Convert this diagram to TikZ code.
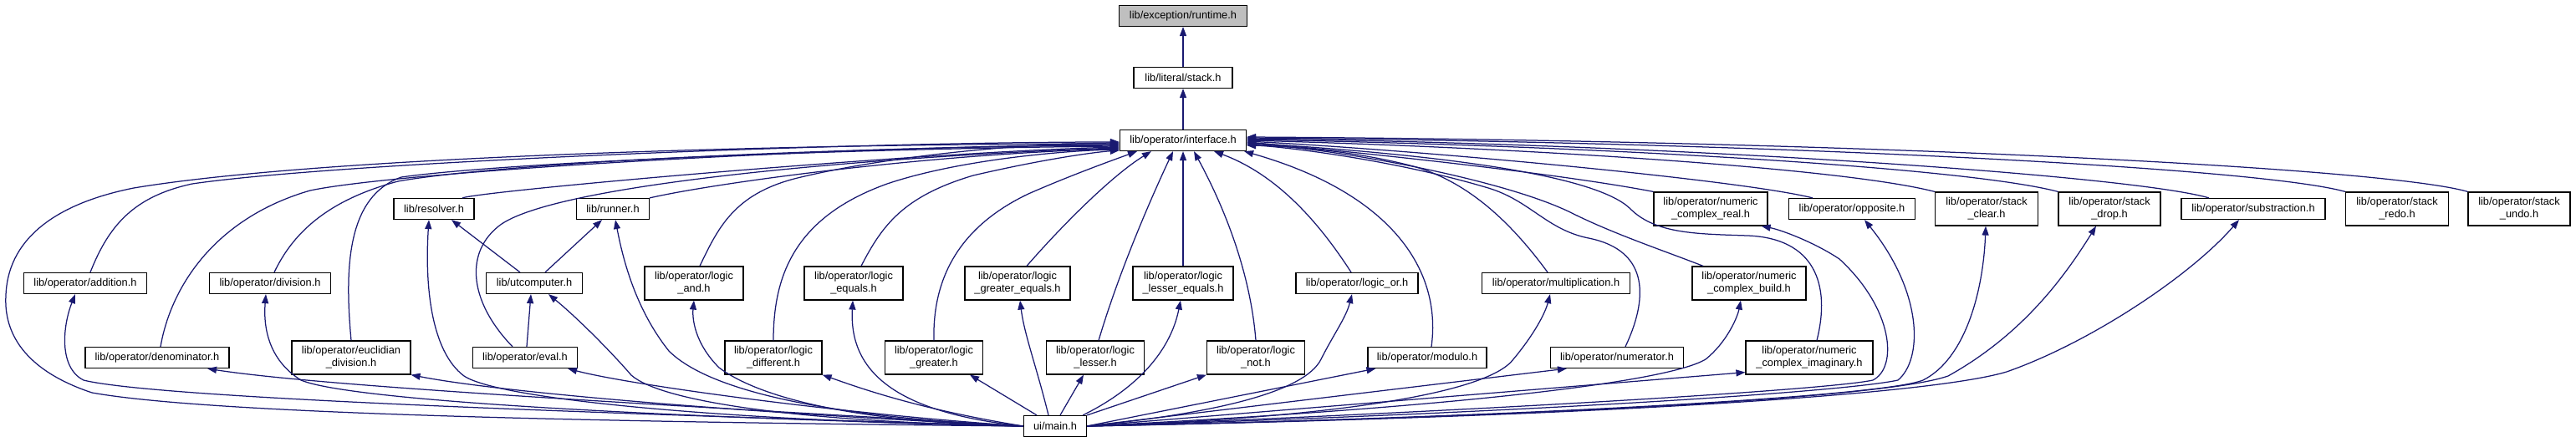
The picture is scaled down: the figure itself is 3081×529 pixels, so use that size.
\documentclass[tikz,border=0pt]{standalone}
\usepackage{fontspec}
\setmainfont{Liberation Sans}
\usetikzlibrary{arrows.meta,calc}
\definecolor{edgeblue}{HTML}{191970}
\definecolor{rootgray}{HTML}{BFBFBF}
\begin{document}
\begin{tikzpicture}[x=1pt,y=-1pt,
  box/.style={draw=black, line width=1.2pt, fill=white, inner sep=0pt, align=center, font=\fontsize{12.8}{15}\selectfont},
  sl/.style={minimum height=25pt},
  dl/.style={minimum height=40pt},
  dep/.style={draw=edgeblue, line width=1.25pt, -{Triangle[length=11pt,width=8pt]}},
]
\useasboundingbox (0,0) rectangle (3081,529);

% nodes
\node[box,sl,minimum width=153pt,fill=rootgray] (runtime) at (1415,19) {lib/exception/runtime.h};
\node[box,sl,minimum width=118pt] (stack) at (1415,93) {lib/literal/stack.h};
\node[box,sl,minimum width=151pt] (iface) at (1415,168) {lib/operator/interface.h};

\node[box,sl,minimum width=96pt] (resolver) at (519,250) {lib/resolver.h};
\node[box,sl,minimum width=87pt] (runner) at (733,250) {lib/runner.h};
\node[box,dl,minimum width=136pt] (ncreal) at (2046,250) {lib/operator/numeric\\\_complex\_real.h};
\node[box,sl,minimum width=151pt] (opposite) at (2215,250) {lib/operator/opposite.h};
\node[box,dl,minimum width=123pt] (stackclear) at (2376,250) {lib/operator/stack\\\_clear.h};
\node[box,dl,minimum width=122pt] (stackdrop) at (2523,250) {lib/operator/stack\\\_drop.h};
\node[box,sl,minimum width=172pt] (substraction) at (2695,250) {lib/operator/substraction.h};
\node[box,dl,minimum width=123pt] (stackredo) at (2867,250) {lib/operator/stack\\\_redo.h};
\node[box,dl,minimum width=122pt] (stackundo) at (3013,250) {lib/operator/stack\\\_undo.h};

\node[box,sl,minimum width=147pt] (addition) at (102,339) {lib/operator/addition.h};
\node[box,sl,minimum width=145pt] (division) at (323,339) {lib/operator/division.h};
\node[box,sl,minimum width=115pt] (utcomputer) at (639,339) {lib/utcomputer.h};
\node[box,dl,minimum width=118pt] (logicand) at (830,339) {lib/operator/logic\\\_and.h};
\node[box,dl,minimum width=118pt] (logicequals) at (1021,339) {lib/operator/logic\\\_equals.h};
\node[box,dl,minimum width=126pt] (logicgreq) at (1217,339) {lib/operator/logic\\\_greater\_equals.h};
\node[box,dl,minimum width=120pt] (logicleeq) at (1415,339) {lib/operator/logic\\\_lesser\_equals.h};
\node[box,sl,minimum width=146pt] (logicor) at (1623,339) {lib/operator/logic\_or.h};
\node[box,sl,minimum width=177pt] (multiplication) at (1861,339) {lib/operator/multiplication.h};
\node[box,dl,minimum width=136pt] (ncbuild) at (2092,339) {lib/operator/numeric\\\_complex\_build.h};

\node[box,sl,minimum width=172pt] (denominator) at (188,428) {lib/operator/denominator.h};
\node[box,dl,minimum width=142pt] (euclid) at (420,428) {lib/operator/euclidian\\\_division.h};
\node[box,sl,minimum width=125pt] (eval) at (628,428) {lib/operator/eval.h};
\node[box,dl,minimum width=116pt] (logicdiff) at (925,428) {lib/operator/logic\\\_different.h};
\node[box,dl,minimum width=117pt] (logicgreater) at (1117,428) {lib/operator/logic\\\_greater.h};
\node[box,dl,minimum width=117pt] (logiclesser) at (1310,428) {lib/operator/logic\\\_lesser.h};
\node[box,dl,minimum width=117pt] (logicnot) at (1502,428) {lib/operator/logic\\\_not.h};
\node[box,sl,minimum width=142pt] (modulo) at (1707,428) {lib/operator/modulo.h};
\node[box,sl,minimum width=159pt] (numerator) at (1934,428) {lib/operator/numerator.h};
\node[box,dl,minimum width=152pt] (ncimag) at (2164,428) {lib/operator/numeric\\\_complex\_imaginary.h};

\node[box,sl,minimum width=75pt] (main) at (1262,510) {ui/main.h};

% chain
\draw[dep] (stack) -- (runtime);
\draw[dep] (iface) -- (stack);

% into interface, left side
\draw[dep] (main.west) .. controls (700,505) and (250,495) .. (110,470) .. controls (20,440) and (5,390) .. (7,354) .. controls (9,290) and (60,245) .. (160,225) .. controls (400,185) and (1000,172) .. ($(iface.west)+(0,4)$);
\draw[dep] ($(addition.north)+(6,0)$) .. controls (130,270) and (160,235) .. (230,220) .. controls (400,195) and (1000,170) .. ($(iface.west)+(0,2)$);
\draw[dep] ($(denominator.north)+(4,0)$) .. controls (205,340) and (260,260) .. (371,228) .. controls (480,205) and (1000,175) .. ($(iface.west)+(0,5)$);
\draw[dep] ($(division.north)+(5,0)$) .. controls (350,280) and (390,240) .. (476,217) .. controls (600,195) and (1000,176) .. ($(iface.west)+(0,6)$);
\draw[dep] (euclid.north) .. controls (412,320) and (415,235) .. (480,212) .. controls (600,195) and (1000,178) .. ($(iface.west)+(0,7)$);
\draw[dep] ($(resolver.north)+(34,0)$) .. controls (580,228) and (1100,182) .. ($(iface.west)+(0,8)$);
\draw[dep] ($(eval.north)+(-15,0)$) .. controls (560,360) and (555,300) .. (600,268) .. controls (680,215) and (1100,185) .. ($(iface.west)+(0,9)$);
\draw[dep] (runner.north east) .. controls (850,220) and (1100,185) .. ($(iface.west)+(0,10)$);
\draw[dep] ($(logicand.north)+(7,0)$) .. controls (860,270) and (880,230) .. (958,212) .. controls (1050,190) and (1200,172) .. ($(iface.west)+(0,3)$);
\draw[dep] (logicdiff.north) .. controls (925,330) and (950,260) .. (1061,220) .. controls (1150,190) and (1280,180) .. ($(iface.west)+(0,11)$);
\draw[dep] ($(logicequals.north)+(9,0)$) .. controls (1055,270) and (1080,235) .. (1164,210) .. controls (1250,190) and (1310,182) .. ($(iface.west)+(0,12)$);

% into interface, bottom
\draw[dep] (logicgreater.north) .. controls (1115,330) and (1150,270) .. (1230,232) .. controls (1280,210) and (1330,192) .. ($(iface.south)+(-55,0)$);
\draw[dep] ($(logicgreq.north)+(11,0)$) .. controls (1270,270) and (1330,210) .. ($(iface.south)+(-38,0)$);
\draw[dep] ($(logiclesser.north)+(4,0)$) .. controls (1340,320) and (1380,230) .. ($(iface.south)+(-12,0)$);
\draw[dep] (logicleeq) -- (iface);
\draw[dep] (logicnot.north) .. controls (1495,320) and (1460,240) .. ($(iface.south)+(13,0)$);
\draw[dep] ($(logicor.north)+(-7,0)$) .. controls (1580,270) and (1530,210) .. ($(iface.south)+(37,0)$);
\draw[dep] ($(modulo.north)+(5,0)$) .. controls (1725,320) and (1660,230) .. ($(iface.south east)+(-3,0)$);

% into interface, right side
\draw[dep] ($(multiplication.north)+(-10,0)$) .. controls (1810,270) and (1760,220) .. (1694,200) .. controls (1620,180) and (1540,175) .. ($(iface.east)+(0,6)$);
\draw[dep] ($(numerator.north)+(10,0)$) .. controls (1970,360) and (1975,300) .. (1900,285) .. controls (1850,275) and (1830,240) .. (1780,225) .. controls (1680,195) and (1560,178) .. ($(iface.east)+(0,5)$);
\draw[dep] ($(ncbuild.north)+(-55,0)$) .. controls (1990,300) and (1930,280) .. (1880,255) .. controls (1800,215) and (1600,178) .. ($(iface.east)+(0,4)$);
\draw[dep] ($(ncimag.north)+(9,0)$) .. controls (2190,340) and (2170,285) .. (2090,282) .. controls (2030,280) and (1980,280) .. (1950,250) .. controls (1920,220) and (1800,190) .. ($(iface.east)+(0,3)$);
\draw[dep] (ncreal.north west) .. controls (1850,205) and (1600,180) .. ($(iface.east)+(0,2)$);
\draw[dep] ($(opposite.north)+(-47,0)$) .. controls (2080,215) and (1700,180) .. ($(iface.east)+(0,1)$);
\draw[dep] (stackclear.north west) .. controls (2200,200) and (1800,176) .. (iface.east);
\draw[dep] (stackdrop.north west) .. controls (2350,200) and (1900,174) .. ($(iface.east)+(0,-1)$);
\draw[dep] ($(substraction.north)+(-53,0)$) .. controls (2550,210) and (2000,172) .. ($(iface.east)+(0,-2)$);
\draw[dep] (stackredo.north west) .. controls (2700,200) and (2100,170) .. ($(iface.east)+(0,-3)$);
\draw[dep] (stackundo.north west) .. controls (2850,200) and (2200,168) .. ($(iface.east)+(0,-4)$);

% from main
\draw[dep] (main.west) .. controls (900,500) and (200,480) .. (100,455) .. controls (70,440) and (75,390) .. ($(addition.south)+(-12,0)$);
\draw[dep] (main.west) .. controls (900,490) and (400,465) .. ($(denominator.south)+(60,0)$);
\draw[dep] (main.west) .. controls (800,500) and (420,480) .. (360,455) .. controls (320,430) and (315,390) .. ($(division.south)+(-5,0)$);
\draw[dep] (main.west) .. controls (900,495) and (600,470) .. (euclid.south east);
\draw[dep] (main.west) .. controls (900,505) and (600,480) .. (555,450) .. controls (515,420) and (508,340) .. ($(resolver.south)+(-6,0)$);
\draw[dep] (main.west) .. controls (1000,495) and (750,460) .. ($(eval.south east)+(-12,0)$);
\draw[dep] (main.west) .. controls (950,505) and (790,480) .. (755,449) .. controls (730,420) and (690,380) .. ($(utcomputer.south)+(17,0)$);
\draw[dep] (main.west) .. controls (1000,500) and (850,470) .. (800,420) .. controls (760,370) and (745,310) .. ($(runner.south)+(3,0)$);
\draw[dep] (main.west) .. controls (1000,505) and (900,470) .. (860,440) .. controls (830,410) and (828,380) .. (logicand.south);
\draw[dep] (main.west) .. controls (1100,490) and (1030,465) .. (logicdiff.south east);
\draw[dep] (main.west) .. controls (1080,495) and (1015,450) .. ($(logicequals.south)+(-1,0)$);
\draw[dep] ($(main.north)+(-22,0)$) -- ($(logicgreater.south)+(43,0)$);
\draw[dep] ($(main.north)+(-8,0)$) .. controls (1240,440) and (1225,400) .. ($(logicgreq.south)+(3,0)$);
\draw[dep] ($(main.north)+(6,0)$) -- ($(logiclesser.south)+(-14,0)$);
\draw[dep] ($(main.north east)+(-5,0)$) .. controls (1360,465) and (1400,420) .. ($(logicleeq.south)+(-3,0)$);
\draw[dep] (main.north east) -- (logicnot.south west);
\draw[dep] (main.east) .. controls (1450,495) and (1560,470) .. (1580,430) .. controls (1595,400) and (1610,380) .. ($(logicor.south)+(-6,0)$);
\draw[dep] (main.east) -- ($(modulo.south west)+(10,0)$);
\draw[dep] (main.east) .. controls (1600,500) and (1780,470) .. (1810,430) .. controls (1835,400) and (1848,375) .. ($(multiplication.south)+(-7,0)$);
\draw[dep] (main.east) -- ($(numerator.south west)+(20,0)$);
\draw[dep] (main.east) .. controls (1700,490) and (1990,460) .. (2040,430) .. controls (2065,410) and (2078,380) .. ($(ncbuild.south)+(-10,0)$);
\draw[dep] (main.east) -- ($(ncimag.south west)+(0,-3)$);
\draw[dep] (main.east) .. controls (1700,495) and (2180,468) .. (2240,455) .. controls (2270,440) and (2265,370) .. (2200,310) .. controls (2170,290) and (2130,275) .. ($(ncreal.south east)+(-8,0)$);
\draw[dep] (main.east) .. controls (1800,495) and (2200,470) .. (2270,455) .. controls (2300,430) and (2300,350) .. ($(opposite.south)+(15,0)$);
\draw[dep] (main.east) .. controls (1800,500) and (2250,475) .. (2300,455) .. controls (2350,430) and (2372,350) .. ($(stackclear.south)+(-1,0)$);
\draw[dep] (main.east) .. controls (1800,500) and (2250,478) .. (2330,450) .. controls (2420,400) and (2470,330) .. ($(stackdrop.south)+(-16,0)$);
\draw[dep] (main.east) .. controls (1850,500) and (2300,475) .. (2400,445) .. controls (2500,410) and (2620,330) .. ($(substraction.south)+(-17,0)$);

% utcomputer and eval
\draw[dep] ($(utcomputer.north)+(-17,0)$) -- ($(resolver.south)+(21,0)$);
\draw[dep] ($(utcomputer.north)+(13,0)$) -- ($(runner.south)+(-13,0)$);
\draw[dep] ($(eval.north)+(2,0)$) -- ($(utcomputer.south)+(-4,0)$);
\end{tikzpicture}
\end{document}
